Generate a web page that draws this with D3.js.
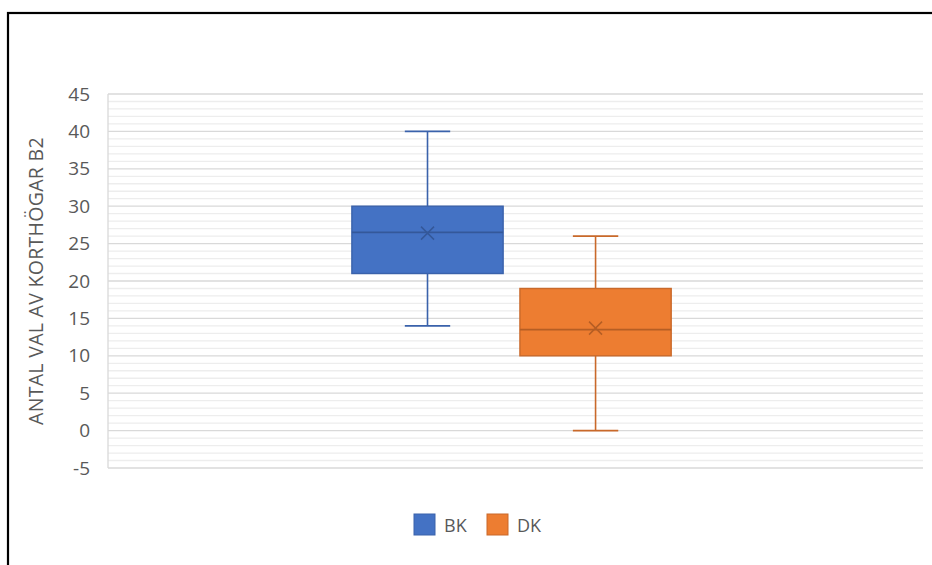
<!DOCTYPE html>
<html>
<head>
<meta charset="utf-8">
<script src="https://cdn.jsdelivr.net/npm/d3@7"></script>
<style>
  html, body { margin: 0; padding: 0; background: #fff; }
  svg { display: block; }
  text { font-family: "Open Sans", "Liberation Sans", sans-serif; fill: #595959; }
</style>
</head>
<body>
<svg id="chart" width="932" height="565"></svg>
<script>
// Box-plot statistics per series
const series  = ["BK", "DK"];
const minVals = [14, 0];
const q1Vals  = [21, 10];
const medVals = [26.5, 13.5];
const q3Vals  = [30, 19];
const maxVals = [40, 26];
const meanVals = [26.4, 13.7];

const yTicks = [-5, 0, 5, 10, 15, 20, 25, 30, 35, 40, 45];
const yTitle = "ANTAL VAL AV KORTHÖGAR B2";

const fills   = ["#4472C4", "#ED7D31"];
const strokes = ["#3A62AB", "#C9692A"];
const darker  = ["#34589A", "#B55E24"];

const svg = d3.select("#chart");

// outer frame
svg.append("rect")
  .attr("x", 8).attr("y", 13)
  .attr("width", 1000).attr("height", 1000)
  .attr("fill", "none").attr("stroke", "#000").attr("stroke-width", 2.2);

const plot = { left: 108, right: 923, top: 94, bottom: 468 };

const y = d3.scaleLinear().domain([-5, 45]).range([plot.bottom, plot.top]);

const xCat = d3.scaleBand().domain(["B2"]).range([plot.left, plot.right])
  .padding(0.437).align(0.492);
const xSer = d3.scaleBand().domain(series)
  .range([xCat("B2"), xCat("B2") + xCat.bandwidth()])
  .paddingInner(0.1);

// minor gridlines (every unit)
const minor = d3.range(-5, 45.001, 1).filter(v => v % 5 !== 0);
svg.append("g").selectAll("line").data(minor).join("line")
  .attr("x1", plot.left).attr("x2", plot.right)
  .attr("y1", d => y(d)).attr("y2", d => y(d))
  .attr("stroke", "#ededed").attr("stroke-width", 1.3);

// major gridlines
svg.append("g").selectAll("line").data(yTicks).join("line")
  .attr("x1", plot.left).attr("x2", plot.right)
  .attr("y1", d => y(d)).attr("y2", d => y(d))
  .attr("stroke", "#d9d9d9").attr("stroke-width", 1.3);

// left axis line
svg.append("line")
  .attr("x1", plot.left).attr("x2", plot.left)
  .attr("y1", y(45)).attr("y2", y(-5))
  .attr("stroke", "#d9d9d9").attr("stroke-width", 1.3);

// y axis labels
const yAxis = d3.axisLeft(y).tickValues(yTicks).tickSize(0).tickPadding(18)
  .tickFormat(d => String(d));
const gy = svg.append("g").attr("transform", `translate(${plot.left},0)`).call(yAxis);
gy.select(".domain").remove();
gy.selectAll("text")
  .style("font-size", "19px")
  .style("font-family", "'Open Sans', sans-serif")
  .attr("fill", "#595959");

// y axis title
svg.append("text")
  .attr("transform", `translate(43, 281) rotate(-90)`)
  .attr("text-anchor", "middle")
  .style("font-size", "19.5px")
  .style("letter-spacing", "0.3px")
  .text(yTitle);

// boxes
const bw = xSer.bandwidth();
const capW = bw * 0.3;
series.forEach((s, i) => {
  const g = svg.append("g");
  const x0 = xSer(s);
  const cx = x0 + bw / 2;

  // whiskers
  g.append("line").attr("x1", cx).attr("x2", cx)
    .attr("y1", y(maxVals[i])).attr("y2", y(q3Vals[i]))
    .attr("stroke", strokes[i]).attr("stroke-width", 1.6);
  g.append("line").attr("x1", cx).attr("x2", cx)
    .attr("y1", y(q1Vals[i])).attr("y2", y(minVals[i]))
    .attr("stroke", strokes[i]).attr("stroke-width", 1.6);
  [maxVals[i], minVals[i]].forEach(v => {
    g.append("line").attr("x1", cx - capW / 2).attr("x2", cx + capW / 2)
      .attr("y1", y(v)).attr("y2", y(v))
      .attr("stroke", strokes[i]).attr("stroke-width", 1.6);
  });

  // box
  g.append("rect")
    .attr("x", x0).attr("width", bw)
    .attr("y", y(q3Vals[i])).attr("height", y(q1Vals[i]) - y(q3Vals[i]))
    .attr("fill", fills[i]).attr("stroke", strokes[i]).attr("stroke-width", 1.4);

  // median
  g.append("line").attr("x1", x0).attr("x2", x0 + bw)
    .attr("y1", y(medVals[i])).attr("y2", y(medVals[i]))
    .attr("stroke", darker[i]).attr("stroke-width", 1.6);

  // mean marker
  const my = y(meanVals[i]);
  const r = 6.5;
  g.append("path")
    .attr("d", `M${cx - r},${my - r}L${cx + r},${my + r}M${cx - r},${my + r}L${cx + r},${my - r}`)
    .attr("stroke", darker[i]).attr("stroke-width", 1.5).attr("fill", "none");
});

// legend
const legend = svg.append("g");
const legX = [414, 487];
series.forEach((s, i) => {
  legend.append("rect")
    .attr("x", legX[i]).attr("y", 514).attr("width", 21).attr("height", 21)
    .attr("fill", fills[i]).attr("stroke", strokes[i]).attr("stroke-width", 1);
  legend.append("text")
    .attr("x", legX[i] + 30).attr("y", 532)
    .style("font-size", "18px")
    .text(s);
});
</script>
</body>
</html>
